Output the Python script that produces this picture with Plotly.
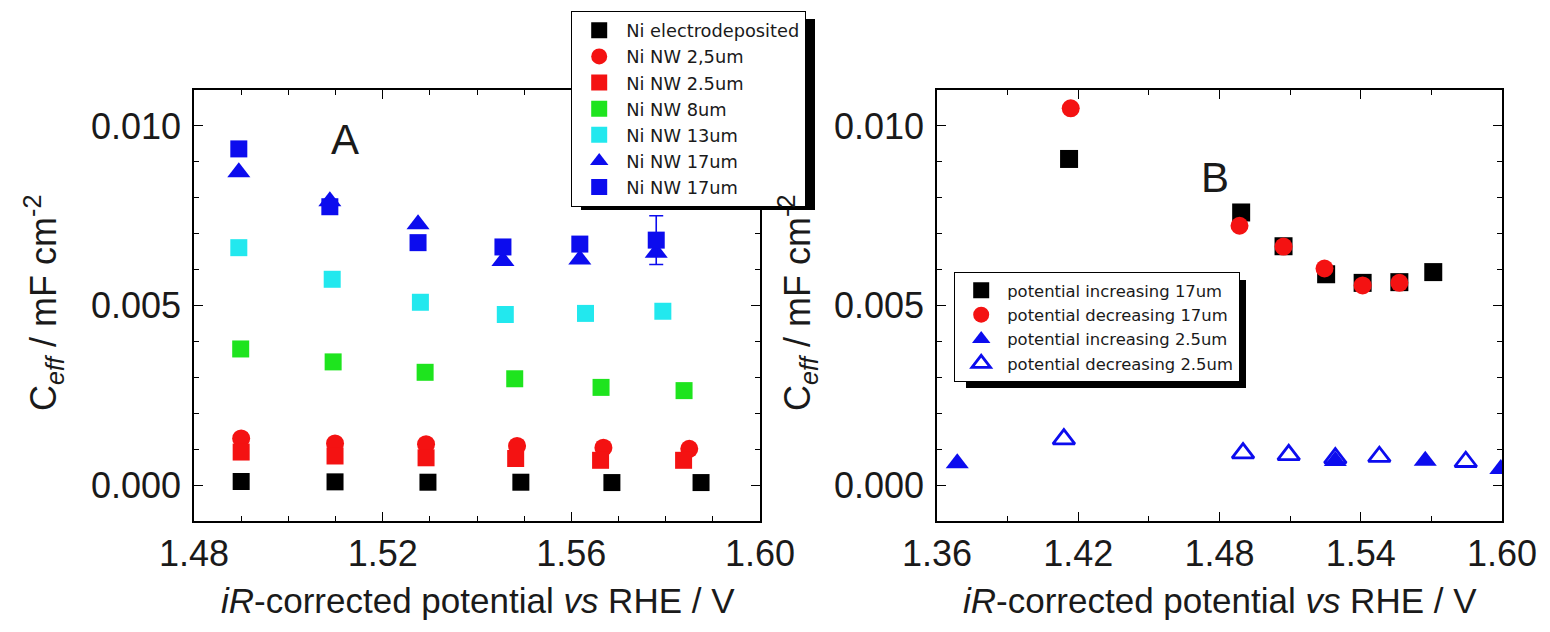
import plotly.graph_objects as go

W, H = 1550, 632

# ---- Panel A: Ceff vs potential for different Ni electrodes ----
a_x_ed = [1.4900, 1.5099, 1.5296, 1.5493, 1.5686, 1.5875]
a_y_ed = [0.00010, 0.00009, 0.00008, 0.00008, 0.00007, 0.00007]

a_x_25c = [1.4900, 1.5099, 1.5292, 1.5485, 1.5668, 1.5850]
a_y_25c = [0.00130, 0.00116, 0.00114, 0.00109, 0.00104, 0.00101]

a_x_25s = [1.4900, 1.5099, 1.5292, 1.5482, 1.5662, 1.5838]
a_y_25s = [0.00092, 0.00081, 0.00076, 0.00074, 0.00069, 0.00069]

a_x_8 = [1.4899, 1.5095, 1.5290, 1.5480, 1.5663, 1.5839]
a_y_8 = [0.00379, 0.00343, 0.00314, 0.00296, 0.00272, 0.00263]

a_x_13 = [1.4895, 1.5093, 1.5280, 1.5460, 1.5630, 1.5794]
a_y_13 = [0.00661, 0.00573, 0.00509, 0.00475, 0.00478, 0.00484]

a_x_17t = [1.4895, 1.5088, 1.5275, 1.5455, 1.5618, 1.5780]
a_y_17t = [0.00871, 0.00790, 0.00726, 0.00624, 0.00628, 0.00647]

a_x_17s = [1.4895, 1.5088, 1.5275, 1.5455, 1.5618, 1.5780]
a_y_17s = [0.00936, 0.00775, 0.00675, 0.00663, 0.00671, 0.00682]
a_e_17s = [0, 0, 0, 0, 0, 0.00068]

# ---- Panel B: potential sweep direction ----
b_x_inc17 = [1.4161, 1.4892, 1.5072, 1.5253, 1.5408, 1.5564, 1.5708]
b_y_inc17 = [0.00908, 0.00759, 0.00665, 0.00587, 0.00563, 0.00565, 0.00593]

b_x_dec17 = [1.4168, 1.4885, 1.5072, 1.5246, 1.5408, 1.5564]
b_y_dec17 = [0.01049, 0.00722, 0.00664, 0.00603, 0.00556, 0.00563]

b_x_inc25 = [1.3686, 1.5292, 1.5674, 1.5995]
b_y_inc25 = [0.00061, 0.00067, 0.00068, 0.00045]

b_x_dec25 = [1.4139, 1.4900, 1.5094, 1.5292, 1.5479, 1.5846]
b_y_dec25 = [0.00128, 0.00089, 0.00084, 0.00075, 0.00079, 0.00065]

x_ticks_a = [1.48, 1.52, 1.56, 1.60]
x_ticks_b = [1.36, 1.42, 1.48, 1.54, 1.60]
y_ticks = [0.000, 0.005, 0.010]

BLACK = "#000000"
RED = "#f41212"
GREEN = "#1ee41e"
CYAN = "#22e8ee"
BLUE = "#0c0cee"
FONT = "Liberation Sans, Arial, sans-serif"
LEGFONT = "DejaVu Sans, sans-serif"
TXT = "#1a1a1a"


def px_x(p):
    return p / W


def px_y(p):
    return 1 - p / H


fig = go.Figure()


def add(x, y, name, color, symbol, size, axes, legend, line=None, err=None):
    xa, ya = axes
    marker = dict(color=color, symbol=symbol, size=size, line=dict(width=0))
    if line is not None:
        marker["line"] = dict(width=line, color=color)
    tr = go.Scatter(
        x=x, y=y, name=name, mode="markers", marker=marker,
        xaxis=xa, yaxis=ya, legend=legend,
    )
    if err is not None:
        tr.error_y = dict(type="data", array=err, visible=True,
                          color=color, thickness=1.6, width=7)
    fig.add_trace(tr)


A = ("x", "y")
B = ("x2", "y2")

add(a_x_ed, a_y_ed, "Ni electrodeposited", BLACK, "square", 17, A, "legend")
add(a_x_25c, a_y_25c, "Ni NW 2,5um", RED, "circle", 18, A, "legend")
add(a_x_25s, a_y_25s, "Ni NW 2.5um", RED, "square", 17, A, "legend")
add(a_x_8, a_y_8, "Ni NW 8um", GREEN, "square", 17, A, "legend")
add(a_x_13, a_y_13, "Ni NW 13um", CYAN, "square", 17, A, "legend")
add(a_x_17t, a_y_17t, "Ni NW 17um", BLUE, "triangle-up", 20, A, "legend")
add(a_x_17s, a_y_17s, "Ni NW 17um", BLUE, "square", 17, A, "legend", err=a_e_17s)

add(b_x_inc17, b_y_inc17, "potential increasing 17um", BLACK, "square", 18, B, "legend2")
add(b_x_dec17, b_y_dec17, "potential decreasing 17um", RED, "circle", 18, B, "legend2")
add(b_x_inc25, b_y_inc25, "potential increasing 2.5um", BLUE, "triangle-up", 20, B, "legend2")
add(b_x_dec25, b_y_dec25, "potential decreasing 2.5um", BLUE, "triangle-up-open", 19, B, "legend2", line=2.8)

axis_common = dict(
    showline=True, linecolor="black", linewidth=1.5, mirror="allticks",
    ticks="inside", ticklen=9, tickwidth=1.3, tickcolor="black",
    showgrid=False, zeroline=False, automargin=False,
    tickfont=dict(family=FONT, size=36, color=TXT),
)
minor_common = dict(ticks="inside", ticklen=5, tickwidth=1.2, tickcolor="black")

ydom = [px_y(521), px_y(90)]

fig.update_layout(
    width=W, height=H,
    margin=dict(l=0, r=0, t=0, b=0, autoexpand=False),
    paper_bgcolor="white", plot_bgcolor="white",
    xaxis=dict(domain=[px_x(194), px_x(760)], range=[1.48, 1.60],
               tickvals=x_ticks_a, ticktext=[f"{v:.2f}" for v in x_ticks_a],
               minor=dict(dtick=0.01, tick0=1.48, **minor_common),
               anchor="y", **axis_common),
    yaxis=dict(domain=ydom, range=[-0.001, 0.011],
               tickvals=y_ticks, ticktext=[f"{v:.3f}" for v in y_ticks],
               minor=dict(dtick=0.001, tick0=0, **minor_common),
               ticklabelstandoff=4, anchor="x", **axis_common),
    xaxis2=dict(domain=[px_x(937), px_x(1502)], range=[1.36, 1.60],
                tickvals=x_ticks_b, ticktext=[f"{v:.2f}" for v in x_ticks_b],
                minor=dict(dtick=0.03, tick0=1.36, **minor_common),
                anchor="y2", **axis_common),
    yaxis2=dict(domain=ydom, range=[-0.001, 0.011],
                tickvals=y_ticks, ticktext=[f"{v:.3f}" for v in y_ticks],
                minor=dict(dtick=0.001, tick0=0, **minor_common),
                ticklabelstandoff=4, anchor="x2", **axis_common),
    legend=dict(x=px_x(688.5), y=px_y(11), xanchor="center", yanchor="top",
                bgcolor="white", bordercolor="black", borderwidth=1.2,
                font=dict(family=LEGFONT, size=17.8, color=TXT),
                tracegroupgap=0, itemwidth=44),
    legend2=dict(x=px_x(1097), y=px_y(272), xanchor="center", yanchor="top",
                 bgcolor="white", bordercolor="black", borderwidth=1.2,
                 font=dict(family=LEGFONT, size=16.4, color=TXT),
                 tracegroupgap=0, itemwidth=42),
    showlegend=True,
)

# drop shadows behind the two legend boxes
for (x0, y0, x1, y1) in [(581, 19, 815, 210), (966, 280, 1246, 388)]:
    fig.add_shape(type="rect", xref="paper", yref="paper",
                  x0=px_x(x0), x1=px_x(x1), y0=px_y(y1), y1=px_y(y0),
                  fillcolor="black", line=dict(width=0), layer="above")

ytitle = "C<sub><i>eff</i></sub> / mF cm<sup>-2</sup>"
xtitle = "<i>iR</i>-corrected potential <i>vs</i> RHE / V"
annots = [
    dict(x=px_x(43), y=px_y(303), text=ytitle, textangle=-90, size=36),
    dict(x=px_x(797), y=px_y(303), text=ytitle, textangle=-90, size=36),
    dict(x=px_x(478), y=px_y(600), text=xtitle, textangle=0, size=35),
    dict(x=px_x(1220), y=px_y(600), text=xtitle, textangle=0, size=35),
    dict(x=px_x(345), y=px_y(140), text="A", textangle=0, size=42),
    dict(x=px_x(1215), y=px_y(178), text="B", textangle=0, size=42),
]
for a in annots:
    fig.add_annotation(x=a["x"], y=a["y"], xref="paper", yref="paper",
                       text=a["text"], textangle=a["textangle"], showarrow=False,
                       xanchor="center", yanchor="middle",
                       font=dict(family=FONT, size=a["size"], color=TXT))

fig.write_html("out.html")
